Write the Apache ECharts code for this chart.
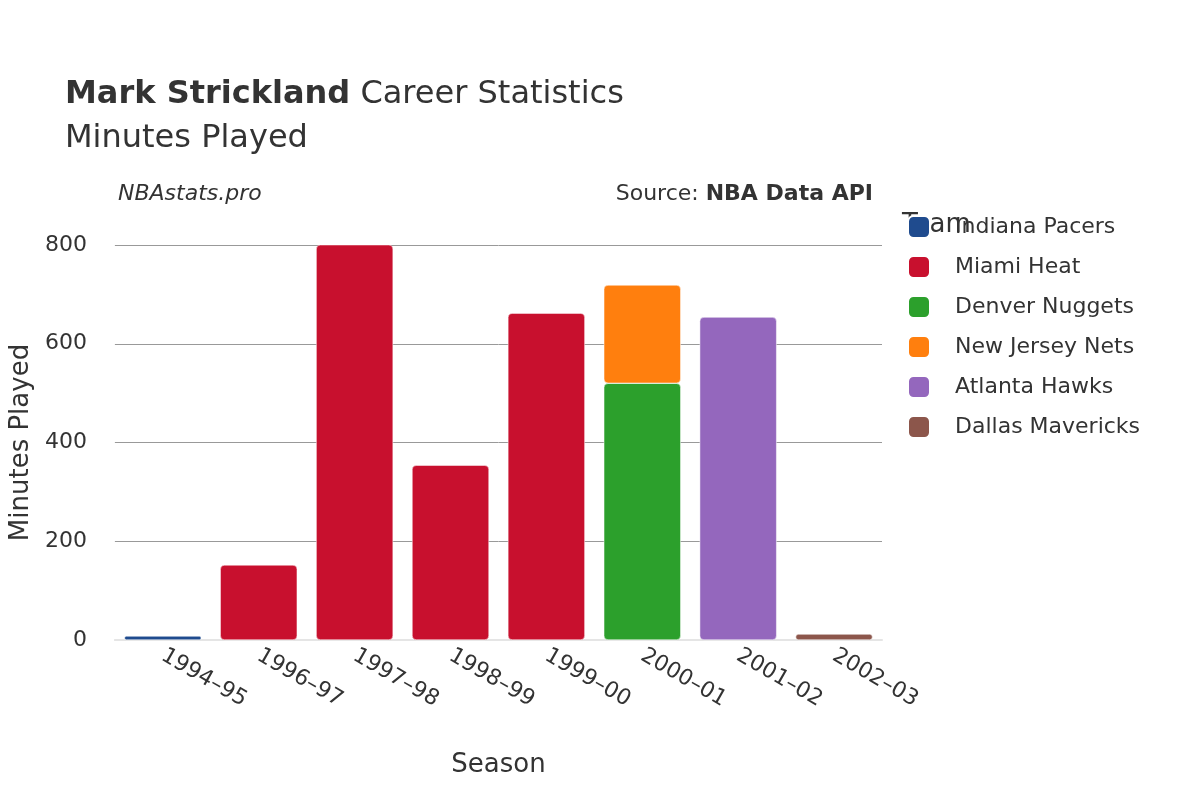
<!DOCTYPE html>
<html>
<head>
<meta charset="utf-8">
<script src="https://cdn.jsdelivr.net/npm/echarts@6/dist/echarts.min.js"></script>
<style>html,body{margin:0;padding:0;background:#fff}#main{width:1200px;height:800px}</style>
</head>
<body>
<div id="main"></div>
<script>
// data
var seasons = ['1994–95', '1996–97', '1997–98', '1998–99', '1999–00', '2000–01', '2001–02', '2002–03'];
var teams = ['Indiana Pacers', 'Miami Heat', 'Denver Nuggets', 'New Jersey Nets', 'Atlanta Hawks', 'Dallas Mavericks'];
var colors = ['#1f4b8e', '#c8102e', '#2ca02c', '#ff7f0e', '#9467bd', '#8c564b'];
var pacers = [8, null, null, null, null, null, null, null];
var heat = [null, 152, 844, 354, 662, null, null, null];
var nuggets = [null, null, null, null, null, 520, null, null];
var nets = [null, null, null, null, null, 199, null, null];
var hawks = [null, null, null, null, null, null, 654, null];
var mavs = [null, null, null, null, null, null, null, 12];
var yTicks = [0, 200, 400, 600, 800];

var values = [pacers, heat, nuggets, nets, hawks, mavs];
var font = 'DejaVu Sans';

var myChart = echarts.init(document.getElementById('main'));
myChart.setOption({
    textStyle: {fontFamily: font},
    title: [
        {
            text: '{b|Mark Strickland} Career Statistics\nMinutes Played',
            left: 60, top: 68,
            textStyle: {
                fontSize: 32, color: '#333', fontWeight: 'normal', lineHeight: 44,
                rich: {b: {fontSize: 32, fontWeight: 'bold', color: '#333'}}
            }
        },
        {text: 'NBAstats.pro', left: 113, top: 178, textStyle: {fontSize: 22, fontStyle: 'italic', fontWeight: 'normal', color: '#333'}},
        {
            text: 'Source: {b|NBA Data API}', right: 322, top: 178,
            textStyle: {fontSize: 22, fontWeight: 'normal', color: '#333', rich: {b: {fontSize: 22, fontWeight: 'bold', color: '#333'}}}
        }
    ],
    legend: {
        orient: 'vertical', left: 902, top: 210,
        data: teams,
        icon: 'roundRect', itemWidth: 22, itemHeight: 22, itemGap: 16,
        textStyle: {fontSize: 22, color: '#333', padding: [0, 0, 0, 20]},
        formatter: function (n) { return n; }
    },
    graphic: [{type: 'text', left: 902, top: 212, style: {text: 'Team', fontSize: 26, fill: '#333', fontFamily: font}}],
    grid: {left: 105, right: 318, top: 245, bottom: 160},
    xAxis: {
        type: 'category', data: seasons,
        name: 'Season', nameLocation: 'middle', nameGap: 112,
        nameTextStyle: {fontSize: 26, color: '#333'},
        axisLine: {show: true, lineStyle: {color: '#e5e5e5', width: 2}},
        axisTick: {show: false},
        axisLabel: {rotate: -30, fontSize: 22, color: '#333', margin: 14, align: 'left'}
    },
    yAxis: {
        type: 'value', min: 0, max: 800, interval: 200,
        name: 'Minutes Played', nameLocation: 'middle', nameGap: 78,
        nameTextStyle: {fontSize: 26, color: '#333'},
        axisLabel: {fontSize: 22, color: '#333', margin: 28},
        splitLine: {lineStyle: {color: '#999', width: 1}}
    },
    series: teams.map(function (t, i) {
        return {
            name: t, type: 'bar', stack: 'all', data: values[i], barWidth: 77,
            itemStyle: {color: colors[i], borderRadius: 4, borderColor: '#fff', borderWidth: 0.5}
        };
    })
});
</script>
</body>
</html>
